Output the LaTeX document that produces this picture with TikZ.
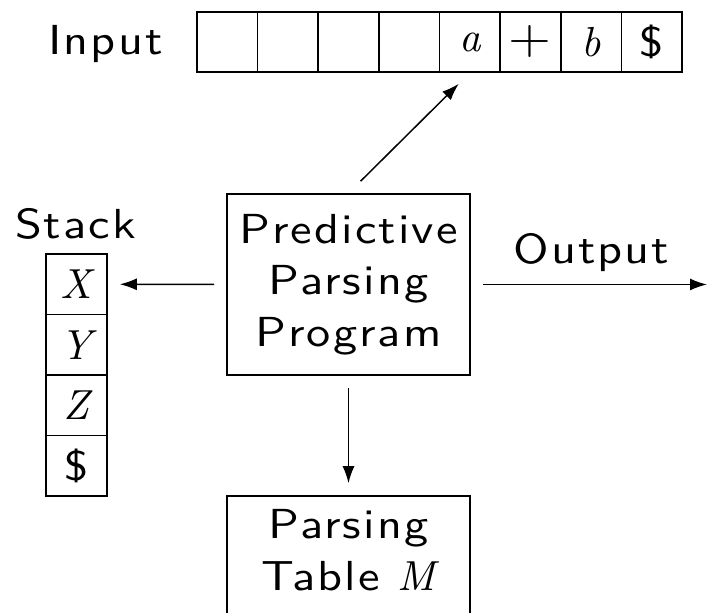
\documentclass[tikz,border=0pt]{standalone}
\usepackage{fontspec}
\setsansfont{lmsans10-regular.otf}[FakeStretch=1.15,LetterSpace=5]
\newfontfamily\varfont{lmroman10-italic.otf}
\usetikzlibrary{arrows.meta}
\begin{document}
\begin{tikzpicture}[x=0.5pt,y=-0.5pt,font=\sffamily\fontsize{21}{25.75}\selectfont,
  cell/.style={draw,line width=0.8pt,inner sep=0pt,minimum width=30.3pt,minimum height=30pt},
  box/.style={draw,line width=0.8pt,align=center,inner sep=0pt,minimum width=121.5pt},
  link/.style={line width=0.75pt,-{Latex[length=8.5pt,width=6pt]},shorten <=6pt,shorten >=6pt}]
\useasboundingbox (0,0) rectangle (708,613);
\clip (0,0) rectangle (708,613);
% input tape
\node[anchor=base] (inlbl) at (105.5,55) {Input};
\foreach \s [count=\i] in {{},{},{},{},{\varfont a},{\fontsize{24}{26}\selectfont+},{\varfont b},\$}
  \node[cell] (in\i) at ({197+60.625*(\i-0.5)},42) {\s};
% stack
\node[anchor=base] (stlbl) at (75.5,239) {Stack};
\foreach \s [count=\i] in {{\varfont X},{\varfont Y},{\varfont Z},\$}
  \node[cell,minimum width=30.5pt,minimum height=30.25pt] (st\i) at (76.5,{254+60.5*(\i-0.5)}) {\s};
% program and table
\node[box,minimum height=90.5pt] (pp) at (348.5,284.5) {Predictive\\Parsing\\Program};
\node[box,minimum height=61pt,text depth=7pt] (pt) at (348.5,557) {Parsing\\Table {\varfont M}};
\node[anchor=base] (outlbl) at (591.5,264) {Output};
\coordinate (out) at (707,284.5);
\draw[link] (pp.west) -- (st1.east);
\draw[link,shorten >=0pt] (pp.east) -- (out);
\draw[link] (pp.south) -- (pt.north);
\draw[link,shorten <=8.5pt,shorten >=7.8pt] (pp.north) -- (in5.south);
\end{tikzpicture}
\end{document}
